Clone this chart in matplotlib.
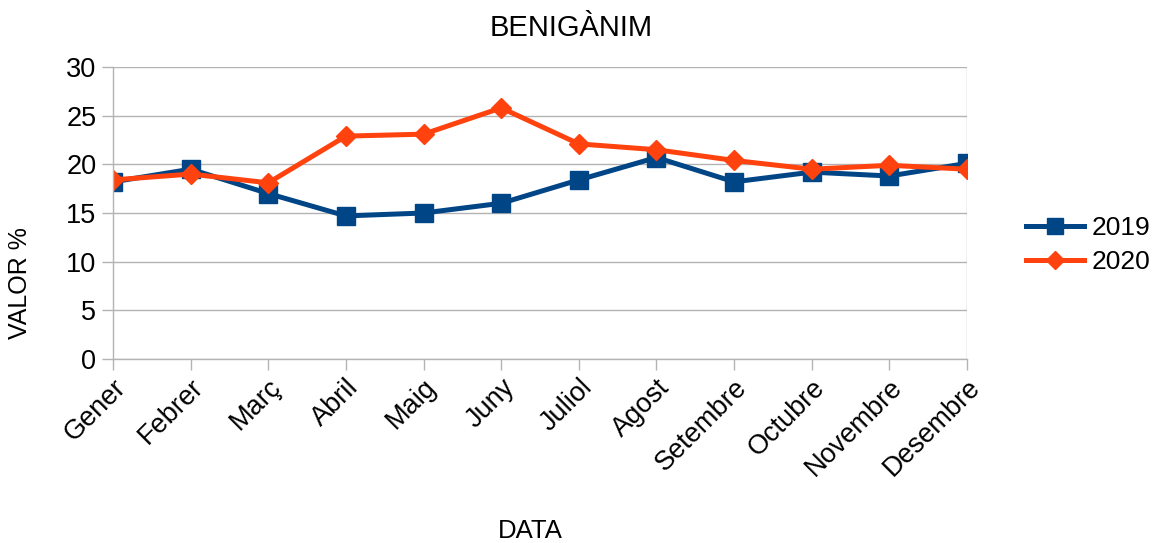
import matplotlib
matplotlib.use("Agg")
import matplotlib.pyplot as plt

months = ["Gener", "Febrer", "Març", "Abril", "Maig", "Juny", "Juliol",
          "Agost", "Setembre", "Octubre", "Novembre", "Desembre"]
v2019 = [18.2, 19.5, 17.0, 14.7, 15.0, 16.0, 18.4, 20.7, 18.2, 19.2, 18.8, 20.1]
v2020 = [18.4, 19.0, 18.1, 22.9, 23.1, 25.8, 22.1, 21.5, 20.4, 19.5, 19.9, 19.5]
yticks = [0, 5, 10, 15, 20, 25, 30]

plt.rcParams['font.family'] = ['Liberation Sans', 'DejaVu Sans']

fig = plt.figure(figsize=(11.54, 5.43), dpi=100)
ax = fig.add_axes([113/1154, 1-359/543, (967-113)/1154, (359-67)/543])

x = list(range(len(months)))
ax.plot(x, v2019, color="#004586", lw=3.6, marker="s", ms=13, label="2019",
        solid_joinstyle="round")
ax.plot(x, v2020, color="#ff420e", lw=3.6, marker="D", ms=10, label="2020",
        solid_joinstyle="round")

ax.set_xlim(0, 11)
ax.set_ylim(0, 30)
ax.set_yticks(yticks)
ax.set_xticks(x)
ax.set_xticklabels(months, rotation=45, ha="right", va="top", rotation_mode="anchor")
ax.tick_params(axis="both", colors="#b3b3b3", labelcolor="black", labelsize=19.5,
               length=8, width=1)
ax.tick_params(axis="x", pad=3)
ax.tick_params(axis="y", pad=4)
ax.grid(axis="y", color="#b3b3b3", lw=1)
ax.grid(axis="x", visible=False)
ax.set_axisbelow(True)
for s in ["top", "right"]:
    ax.spines[s].set_visible(False)
for s in ["left", "bottom"]:
    ax.spines[s].set_color("#b3b3b3")
    ax.spines[s].set_linewidth(1)
ax.axvline(11, color="#b3b3b3", lw=1, zorder=0)

fig.text(571/1154, 1-28/543, "BENIGÀNIM", ha="center", va="center", fontsize=21)
fig.text(530/1154, 1-531/543, "DATA", ha="center", va="center", fontsize=18.5)
fig.text(20/1154, 1-283/543, "VALOR %", ha="center", va="center", fontsize=18,
         rotation=90)

leg = ax.legend(loc="center left", bbox_to_anchor=(1026/1154, 1-245/543),
                bbox_transform=fig.transFigure, frameon=False, fontsize=19,
                handlelength=2.2, labelspacing=0.38, handletextpad=0.3,
                markerscale=0.9, borderpad=0, borderaxespad=0)

fig.savefig("out.png", dpi=100)
